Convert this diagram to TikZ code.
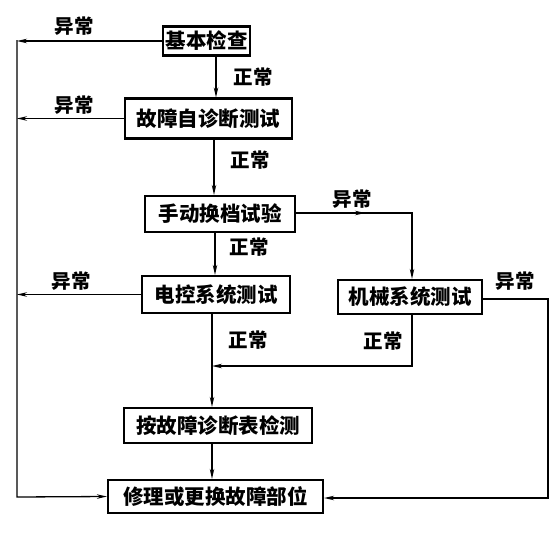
\documentclass[tikz,border=0pt]{standalone}
\usepackage{fontspec}
\newfontfamily\cjk{Noto Sans CJK SC}
\usetikzlibrary{arrows.meta,calc}
\begin{document}
\begin{tikzpicture}[x=1pt,y=-1pt,
  box/.style={draw,line width=2.2pt,inner sep=0pt,font=\cjk\bfseries\fontsize{20.5}{23}\selectfont},
  lbl/.style={inner sep=0pt,font=\cjk\bfseries\fontsize{19.5}{22}\selectfont},
  conn/.style={line width=1.3pt},
  arr/.style={line width=1.3pt,-{Stealth[length=10pt,width=4.5pt]}}]
\useasboundingbox (0,0) rectangle (557,533);
% boxes
\node[box,minimum width=87pt,minimum height=29pt] (b1) at (206.5,41) {基本检查};
\node[box,minimum width=167pt,minimum height=40pt] (b2) at (208.5,118.5) {故障自诊断测试};
\node[box,minimum width=150pt,minimum height=36pt] (b3) at (220,214) {手动换档试验};
\node[box,minimum width=148pt,minimum height=37pt] (b4) at (216,294.5) {电控系统测试};
\node[box,minimum width=144pt,minimum height=34pt] (b5) at (410,297) {机械系统测试};
\node[box,minimum width=188pt,minimum height=35pt] (b6) at (218,425.5) {按故障诊断表检测};
\node[box,minimum width=215pt,minimum height=33pt] (b7) at (215.5,496.5) {修理或更换故障部位};
% labels
\node[lbl] (l1) at (74,26) {异常};
\node[lbl] (l2) at (253,77) {正常};
\node[lbl] (l3) at (74,105) {异常};
\node[lbl] (l4) at (250,160) {正常};
\node[lbl] (l5) at (352,199) {异常};
\node[lbl] (l6) at (249,247) {正常};
\node[lbl] (l7) at (71,281) {异常};
\node[lbl] (l8) at (515,281) {异常};
\node[lbl] (l9) at (248,340) {正常};
\node[lbl] (l10) at (383,341) {正常};
% helper coordinates
\coordinate (lt) at (17,40);
\coordinate (lb) at (17,497);
\coordinate (rt) at (548,299);
\coordinate (rb) at (548,498);
\coordinate (mr) at (412,366);
\coordinate (ml) at (212,366);
\coordinate (tr) at (412,213);
\coordinate (tm) at (365,213);
% left side
\draw[arr] (b1.west) -- (b1.west -| lt);
\draw[arr] (b2.west) -- (b2.west -| lt);
\draw[arr] (b4.west) -- (b4.west -| lt);
\draw[arr] (lt) -- (lb) -- (b7.west);
% spine
\draw[arr] (b1.south -| 216,0) -- (b2.north -| 216,0);
\draw[arr] (b2.south -| 214,0) -- (b3.north -| 214,0);
\draw[arr] (b3.south -| 215,0) -- (b4.north -| 215,0);
\draw[arr] (b4.south -| ml) -- (b6.north -| ml);
\draw[arr] (b6.south -| ml) -- (b7.north -| ml);
% mechanical branch
\draw[arr] (b3.east |- tr) -- (tm);
\draw[arr] (b3.east |- tr) -- (tr) -- (b5.north -| tr);
\draw[arr] (b5.south -| mr) -- (mr) -- (ml);
\draw[arr] (b5.east |- rt) -- (rt) -- (rb) -- (b7.east |- rb);
\end{tikzpicture}
\end{document}
